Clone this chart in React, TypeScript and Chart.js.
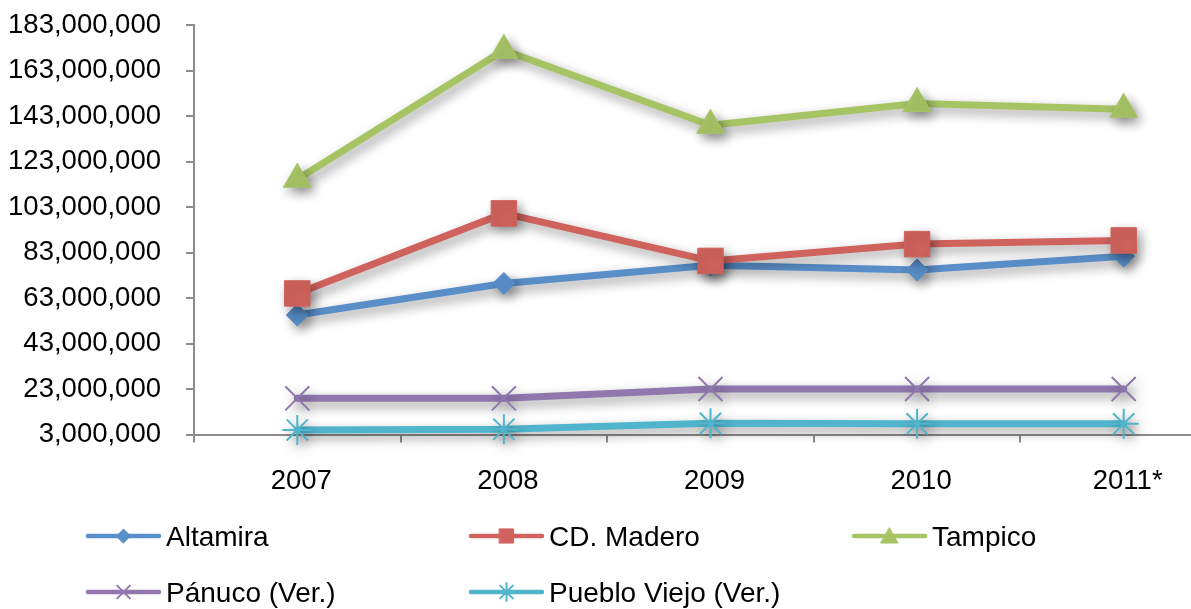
import React, { useEffect, useRef } from "react";
import { Chart, registerables } from "chart.js";
import { drawPoint } from "chart.js/helpers";

Chart.register(...registerables);

// ---- data ----
const categories = ["2007", "2008", "2009", "2010", "2011*"];
const altamira = [55500000, 69400000, 77400000, 75300000, 81400000];
const cdMadero = [65000000, 100200000, 79300000, 86700000, 88300000];
const tampico = [115200000, 171900000, 138900000, 148500000, 146000000];
const panuco = [18900000, 18900000, 23000000, 23000000, 23000000];
const puebloViejo = [5000000, 5300000, 7900000, 7700000, 7700000];

const seriesNames = ["Altamira", "CD. Madero", "Tampico", "Pánuco (Ver.)", "Pueblo Viejo (Ver.)"];
const Y_MIN = 3000000;
const Y_MAX = 183000000;
const Y_STEP = 20000000;

// ---- styles ----
const colors = ["#598ec9", "#cf625c", "#a7c465", "#9077ae", "#50b5cc"];
const pointStyles = ["rectRot", "rect", "triangle", "crossRot", "star"];
const pointRadii = [11, 18, 16, 17, 15];
const pointBorders = [1, 1, 1, 2, 2];
const legendRadii = [7, 10, 10, 9, 9];
const FONT = "'Liberation Sans', Arial, Helvetica, sans-serif";
const AXIS_GRAY = "#8c8c8c";

const legendCols = [88, 471, 854];
const legendRows = [536, 592];

const shadowPlugin = {
  id: "shadowPlugin",
  beforeDatasetsDraw(chart: any) {
    const ctx = chart.ctx;
    ctx.save();
    ctx.shadowColor = "rgba(0,0,0,0.4)";
    ctx.shadowBlur = 12;
    ctx.shadowOffsetX = 4;
    ctx.shadowOffsetY = 5;
  },
  afterDatasetsDraw(chart: any) {
    chart.ctx.restore();
  },
};

const legendPlugin = {
  id: "customLegend",
  afterDraw(chart: any) {
    const ctx = chart.ctx;
    chart.data.datasets.forEach((ds: any, i: number) => {
      const col = i % 3;
      const row = Math.floor(i / 3);
      const x0 = legendCols[col];
      const y = legendRows[row];
      const lineLen = 71;
      ctx.save();
      ctx.strokeStyle = ds.borderColor;
      ctx.lineWidth = 4.5;
      ctx.lineCap = "round";
      ctx.beginPath();
      ctx.moveTo(x0, y);
      ctx.lineTo(x0 + lineLen, y);
      ctx.stroke();
      ctx.fillStyle = ds.borderColor;
      ctx.strokeStyle = ds.borderColor;
      ctx.lineWidth = pointBorders[i];
      drawPoint(
        ctx,
        { pointStyle: ds.pointStyle, radius: legendRadii[i], rotation: 0, borderWidth: pointBorders[i] } as any,
        x0 + lineLen / 2,
        y + (ds.pointStyle === "triangle" ? 2 : 0)
      );
      ctx.fillStyle = "#000";
      ctx.font = `28px ${FONT}`;
      ctx.textBaseline = "middle";
      ctx.textAlign = "left";
      ctx.fillText(ds.label, x0 + lineLen + 7, y + 2);
      ctx.restore();
    });
  },
};

export default function App() {
  const ref = useRef<HTMLCanvasElement | null>(null);
  useEffect(() => {
    if (!ref.current) return;
    const seriesData = [altamira, cdMadero, tampico, panuco, puebloViejo];
    const chart = new Chart(ref.current, {
      type: "line",
      data: {
        labels: categories,
        datasets: seriesData.map((d, i) => ({
          label: seriesNames[i],
          data: d,
          borderColor: colors[i],
          backgroundColor: colors[i],
          borderWidth: 7,
          borderJoinStyle: "round",
          borderCapStyle: "round",
          tension: 0,
          pointStyle: pointStyles[i],
          pointRadius: pointRadii[i],
          pointHoverRadius: pointRadii[i],
          pointBackgroundColor: colors[i],
          pointBorderColor: colors[i],
          pointBorderWidth: pointBorders[i],
          order: seriesData.length - i,
          clip: false,
        })) as any,
      },
      options: {
        animation: false,
        responsive: false,
        devicePixelRatio: 1,
        events: [],
        layout: { padding: { left: 0, top: 25, right: 0, bottom: 89.5 } },
        plugins: {
          legend: { display: false },
          tooltip: { enabled: false },
          title: { display: false },
        },
        scales: {
          x: {
            type: "category",
            offset: true,
            grid: {
              display: true,
              drawOnChartArea: false,
              drawTicks: true,
              tickLength: 8,
              color: AXIS_GRAY,
              lineWidth: 2,
              offset: true,
            },
            border: { display: true, color: AXIS_GRAY, width: 2 },
            ticks: {
              color: "#000",
              font: { family: FONT, size: 27.5 },
              padding: 22,
              maxRotation: 0,
              autoSkip: false,
              labelOffset: 4,
            },
          },
          y: {
            type: "linear",
            min: Y_MIN,
            max: Y_MAX,
            afterFit(scale: any) {
              scale.width = 194;
              scale.paddingTop = 0;
              scale.paddingBottom = 0;
            },
            grid: {
              display: true,
              drawOnChartArea: false,
              drawTicks: true,
              tickLength: 8,
              color: AXIS_GRAY,
              lineWidth: 2,
            },
            border: { display: true, color: AXIS_GRAY, width: 2 },
            ticks: {
              stepSize: Y_STEP,
              color: "#000",
              font: { family: FONT, size: 27.5 },
              padding: 25,
              autoSkip: false,
              callback: (v: any) => Number(v).toLocaleString("en-US"),
            },
          },
        },
      },
      plugins: [shadowPlugin, legendPlugin],
    });
    return () => chart.destroy();
  }, []);

  return (
    <div
      style={{
        position: "absolute",
        left: 0,
        top: 0,
        width: 1191,
        height: 609,
        overflow: "hidden",
        background: "#fff",
      }}
    >
      <canvas ref={ref} width={1246} height={609} style={{ display: "block" }} />
    </div>
  );
}
